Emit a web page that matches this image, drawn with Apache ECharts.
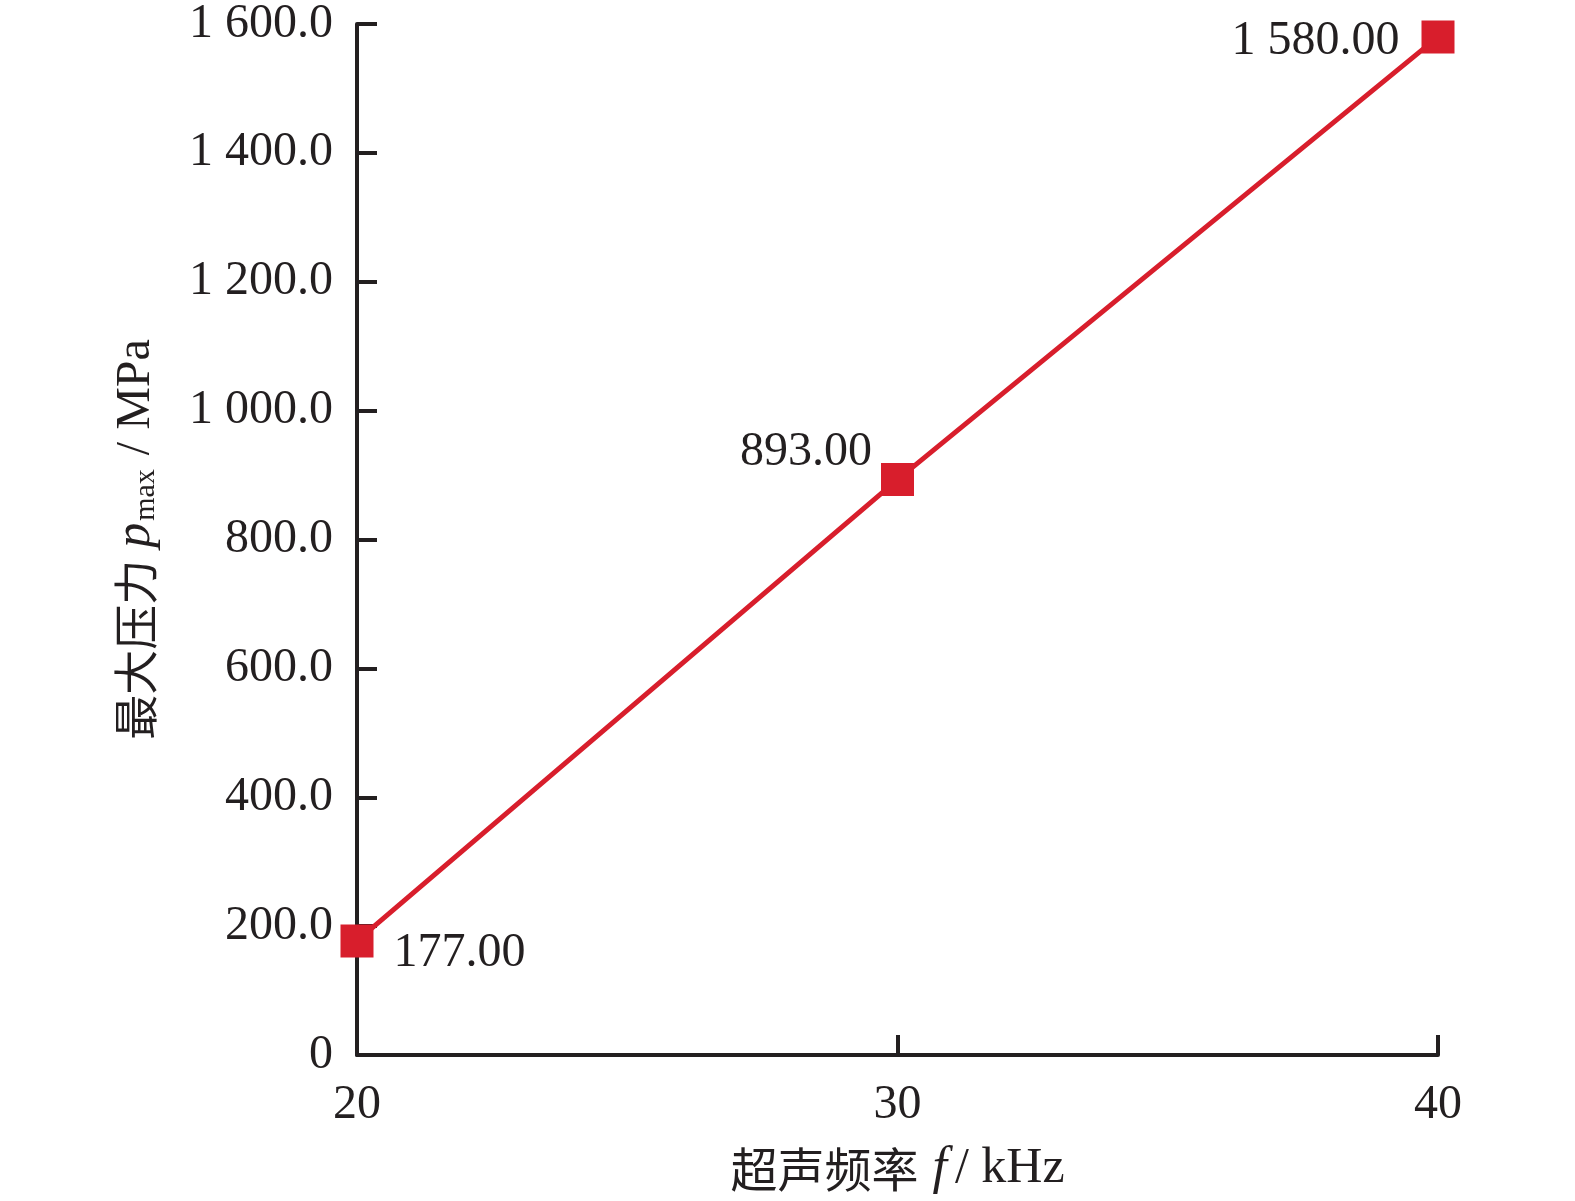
<!DOCTYPE html>
<html>
<head>
<meta charset="utf-8">
<script src="https://cdn.jsdelivr.net/npm/echarts@6/dist/echarts.min.js"></script>
<style>
html,body{margin:0;padding:0;background:#fff;}
#c{width:1575px;height:1201px;}
</style>
</head>
<body>
<div id="c"></div>
<script>
const frequencies = [20, 30, 40];
const maxPressure = [177, 893, 1580];
const pointLabels = ['177.00', '893.00', '1 580.00'];
const yTickLabels = ['0', '200.0', '400.0', '600.0', '800.0', '1 000.0', '1 200.0', '1 400.0', '1 600.0'];

const serif = '"Liberation Serif", "Times New Roman", serif';
const cjk = '"Noto Sans CJK SC", sans-serif';
const ink = '#231f20';
const red = '#d81e2c';

const labelCfg = [
  {position: 'right', distance: 20, offset: [0, 12]},
  {position: 'left', distance: 9, offset: [0, -27]},
  {position: 'left', distance: 22, offset: [0, 5]}
];

const chart = echarts.init(document.getElementById('c'));
chart.setOption({
  backgroundColor: '#fff',
  animation: false,
  grid: {left: 357, top: 24, right: 137, bottom: 146, containLabel: false},
  xAxis: {
    type: 'value', min: 20, max: 40, interval: 10,
    axisLine: {show: true, lineStyle: {color: ink, width: 4}},
    axisTick: {show: true, inside: true, length: 20, lineStyle: {color: ink, width: 4}},
    splitLine: {show: false},
    axisLabel: {margin: 26, fontFamily: serif, fontSize: 48, color: ink},
    name: '{cn|超声频率}{it|f}{n|/ kHz}',
    nameLocation: 'middle', nameGap: 88,
    nameTextStyle: {
      verticalAlign: 'top',
      rich: {
        cn: {fontFamily: cjk, fontSize: 47, color: ink, padding: [0, 14, 0, 0]},
        it: {fontFamily: serif, fontSize: 52, fontStyle: 'italic', color: ink, padding: [0, 8, 0, 0]},
        n: {fontFamily: serif, fontSize: 50, color: ink}
      }
    }
  },
  yAxis: {
    type: 'value', min: 0, max: 1600, interval: 200,
    axisLine: {show: true, lineStyle: {color: ink, width: 4}},
    axisTick: {show: true, inside: true, length: 20, lineStyle: {color: ink, width: 4}},
    splitLine: {show: false},
    axisLabel: {
      margin: 24, fontFamily: serif, fontSize: 48, color: ink,
      formatter: (v) => yTickLabels[Math.round(v / 200)]
    },
    name: '{cn|最大压力}{it|p}{sub|max}{n|/ MPa}',
    nameLocation: 'middle', nameRotate: 90, nameGap: 196,
    nameTextStyle: {
      rich: {
        cn: {fontFamily: cjk, fontSize: 45, color: ink, padding: [0, 12, 0, 0]},
        it: {fontFamily: serif, fontSize: 50, fontStyle: 'italic', color: ink},
        sub: {fontFamily: serif, fontSize: 30, color: ink, padding: [20, 14, 0, 2]},
        n: {fontFamily: serif, fontSize: 48, color: ink}
      }
    }
  },
  series: [{
    type: 'line',
    data: frequencies.map((f, i) => ({
      value: [f, maxPressure[i]],
      label: Object.assign({show: true, formatter: pointLabels[i]}, labelCfg[i])
    })),
    symbol: 'rect', symbolSize: 33,
    itemStyle: {color: red},
    lineStyle: {color: red, width: 5},
    label: {fontFamily: serif, fontSize: 48, color: ink},
    z: 3
  }]
});
</script>
</body>
</html>
